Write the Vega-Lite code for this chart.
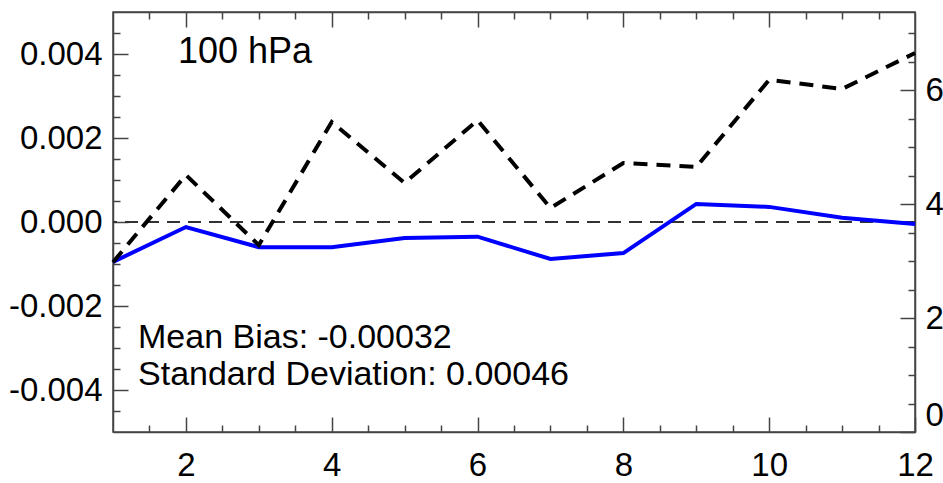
{
  "$schema": "https://vega.github.io/schema/vega-lite/v6.json",
  "autosize": "none",
  "width": 802,
  "height": 420,
  "padding": {"left": 113, "top": 12, "right": 28, "bottom": 51},
  "background": "white",
  "config": {
    "view": {"stroke": "#444", "strokeWidth": 1.5},
    "axis": {
      "labelFont": "Liberation Sans",
      "labelFontSize": 33,
      "labelColor": "black",
      "grid": false,
      "domainColor": "#444",
      "domainWidth": 1.5,
      "tickColor": "#444",
      "tickWidth": 1.5,
      "tickSize": -15,
      "title": null
    },
    "text": {"font": "Liberation Sans"}
  },
  "data": {
    "values": [
      {"month": 1, "bias": -0.00095, "sd": 2.98},
      {"month": 2, "bias": -0.00012, "sd": 4.51},
      {"month": 3, "bias": -0.0006, "sd": 3.28},
      {"month": 4, "bias": -0.0006, "sd": 5.44},
      {"month": 5, "bias": -0.00038, "sd": 4.37},
      {"month": 6, "bias": -0.00035, "sd": 5.47},
      {"month": 7, "bias": -0.00088, "sd": 3.93},
      {"month": 8, "bias": -0.00074, "sd": 4.72},
      {"month": 9, "bias": 0.00043, "sd": 4.65},
      {"month": 10, "bias": 0.00036, "sd": 6.18},
      {"month": 11, "bias": 0.0001, "sd": 6.02},
      {"month": 12, "bias": -0.00005, "sd": 6.65}
    ]
  },
  "layer": [
    {
      "encoding": {
        "x": {
          "field": "month", "type": "quantitative",
          "scale": {"domain": [1, 12], "nice": false, "zero": false},
          "axis": {
            "orient": "bottom",
            "values": [1.5, 2, 2.5, 3, 3.5, 4, 4.5, 5, 5.5, 6, 6.5, 7, 7.5, 8, 8.5, 9, 9.5, 10, 10.5, 11, 11.5, 12],
            "tickSize": -15,
            "tickDash": {"condition": {"test": "datum.value % 2 == 0", "value": [15, 0]}, "value": [7, 30]},
            "labelExpr": "datum.value % 2 == 0 ? format(datum.value, 'd') : ''",
            "labelPadding": 32,
            "labelBaseline": "top",
            "labelFlush": false
          }
        },
        "y": {
          "type": "quantitative",
          "scale": {"domain": [-0.005, 0.005], "nice": false, "zero": false},
          "axis": {
            "orient": "left",
            "values": [-0.0045, -0.004, -0.0035, -0.003, -0.0025, -0.002, -0.0015, -0.001, -0.0005, 0, 0.0005, 0.001, 0.0015, 0.002, 0.0025, 0.003, 0.0035, 0.004, 0.0045],
            "tickSize": -15,
            "tickDash": {"condition": {"test": "abs(datum.value*500 - round(datum.value*500)) < 0.01", "value": [15, 0]}, "value": [7, 30]},
            "labelExpr": "abs(datum.value*500 - round(datum.value*500)) < 0.01 ? (datum.value < -0.00001 ? '-' : '') + format(abs(datum.value), '.3f') : ''",
            "labelPadding": 26,
            "labelFlush": false
          }
        }
      },
      "layer": [
        {
          "mark": {"type": "rule", "stroke": "#333", "strokeWidth": 1.5, "strokeDash": [13, 8]},
          "encoding": {"y": {"datum": 0, "type": "quantitative"}, "x": null}
        },
        {
          "mark": {"type": "line", "stroke": "#0000ff", "strokeWidth": 4},
          "encoding": {"y": {"field": "bias", "type": "quantitative"}}
        },
        {
          "transform": [{"filter": "datum.month == 1"}],
          "mark": {"type": "text", "text": "100 hPa", "fontSize": 36, "align": "left", "baseline": "alphabetic", "color": "black"},
          "encoding": {"x": {"datum": 1.89, "type": "quantitative"}, "y": {"datum": 0.00379, "type": "quantitative"}}
        },
        {
          "transform": [{"filter": "datum.month == 1"}],
          "mark": {"type": "text", "text": "Mean Bias: -0.00032", "fontSize": 34, "align": "left", "baseline": "alphabetic", "color": "black"},
          "encoding": {"x": {"datum": 1.343, "type": "quantitative"}, "y": {"datum": -0.003, "type": "quantitative"}}
        },
        {
          "transform": [{"filter": "datum.month == 1"}],
          "mark": {"type": "text", "text": "Standard Deviation: 0.00046", "fontSize": 34, "align": "left", "baseline": "alphabetic", "color": "black"},
          "encoding": {"x": {"datum": 1.343, "type": "quantitative"}, "y": {"datum": -0.00388, "type": "quantitative"}}
        }
      ]
    },
    {
      "mark": {"type": "line", "stroke": "black", "strokeWidth": 4, "strokeDash": [14, 9]},
      "encoding": {
        "x": {
          "field": "month", "type": "quantitative",
          "scale": {"domain": [1, 12], "nice": false, "zero": false},
          "axis": {
            "orient": "top",
            "values": [1.5, 2, 2.5, 3, 3.5, 4, 4.5, 5, 5.5, 6, 6.5, 7, 7.5, 8, 8.5, 9, 9.5, 10, 10.5, 11, 11.5],
            "tickSize": -15,
            "tickDash": {"condition": {"test": "datum.value % 2 == 0", "value": [15, 0]}, "value": [7, 30]},
            "labels": false
          }
        },
        "y": {
          "field": "sd", "type": "quantitative",
          "scale": {"domain": [0, 7.37], "nice": false, "zero": false},
          "axis": {
            "orient": "right",
            "values": [0, 0.5, 1, 1.5, 2, 2.5, 3, 3.5, 4, 4.5, 5, 5.5, 6, 6.5, 7],
            "tickSize": -15,
            "tickDash": {"condition": {"test": "datum.value % 2 == 0", "value": [15, 0]}, "value": [7, 30]},
            "labelExpr": "datum.value % 2 == 0 ? format(datum.value, 'd') : ''",
            "labelPadding": 25,
            "labelFlush": true
          }
        }
      }
    }
  ],
  "resolve": {"scale": {"x": "independent", "y": "independent"}, "axis": {"x": "independent", "y": "independent"}}
}
